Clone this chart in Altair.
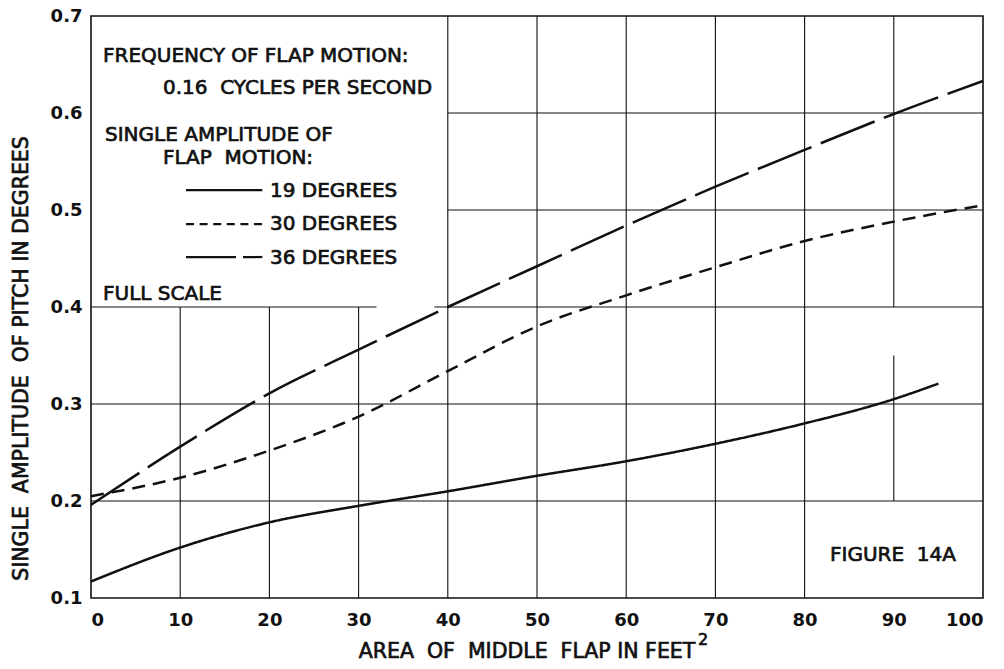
import altair as alt
import pandas as pd

# Single amplitude of pitch (degrees) versus area of middle flap (ft^2)
area_19 = [0, 10, 20, 30, 40, 50, 60, 70, 80, 90, 95]
pitch_19 = [0.117, 0.152, 0.178, 0.195, 0.210, 0.226, 0.241, 0.259, 0.280, 0.305, 0.321]

area_30 = [0, 10, 20, 30, 40, 50, 60, 70, 80, 90, 100]
pitch_30 = [0.205, 0.224, 0.252, 0.287, 0.334, 0.380, 0.412, 0.441, 0.468, 0.488, 0.505]

area_36 = [0, 10, 20, 30, 40, 50, 60, 70, 80, 90, 100]
pitch_36 = [0.196, 0.256, 0.311, 0.356, 0.400, 0.442, 0.484, 0.524, 0.562, 0.599, 0.633]

series_names = ["19 DEGREES", "30 DEGREES", "36 DEGREES"]

x_ticks = [0, 10, 20, 30, 40, 50, 60, 70, 80, 90, 100]
y_ticks = [0.1, 0.2, 0.3, 0.4, 0.5, 0.6, 0.7]

# Ruled grid, drawn as separate segments (blank under the key and the figure box)
grid_x = [10, 20, 30, 40, 50, 60, 70, 80, 90, 90, 0, 0, 0, 38.5, 40, 40]
grid_x2 = [10, 20, 30, 40, 50, 60, 70, 80, 90, 90, 100, 100, 32, 100, 100, 100]
grid_y = [0.1, 0.1, 0.1, 0.1, 0.1, 0.1, 0.1, 0.1, 0.2, 0.4, 0.2, 0.3, 0.4, 0.4, 0.5, 0.6]
grid_y2 = [0.4, 0.4, 0.4, 0.7, 0.7, 0.7, 0.7, 0.7, 0.35, 0.7, 0.2, 0.3, 0.4, 0.4, 0.5, 0.6]

# Key samples and notes (data coordinates)
SP = "\u00a0"  # non-collapsing space for the wider lettering gaps
key_x = [10.65, 19.2]
key_y = [0.5205, 0.4855, 0.4515]
note_text = [
    "FREQUENCY OF FLAP MOTION:",
    "0.16" + SP + " CYCLES PER SECOND",
    "SINGLE AMPLITUDE OF",
    "FLAP" + SP + " MOTION:",
    "19 DEGREES",
    "30 DEGREES",
    "36 DEGREES",
    "FULL SCALE",
    "FIGURE" + SP + " 14A",
]
note_x = [1.35, 8.07, 1.57, 8.07, 20.07, 20.07, 20.07, 1.35, 82.85]
note_y = [0.659, 0.626, 0.577, 0.554, 0.520, 0.4856, 0.451, 0.4129, 0.1448]

x_title = "AREA" + SP + " OF" + SP + " MIDDLE" + SP + " FLAP IN FEET"
x_title_sup = "2"
y_title = "SINGLE" + SP + " AMPLITUDE" + SP + " OF PITCH IN DEGREES"

FONT = "DejaVu Sans"
INK = "#111111"

curves = pd.concat(
    [
        pd.DataFrame({"series": series_names[0], "x": area_19, "y": pitch_19}),
        pd.DataFrame({"series": series_names[1], "x": area_30, "y": pitch_30}),
        pd.DataFrame({"series": series_names[2], "x": area_36, "y": pitch_36}),
    ],
    ignore_index=True,
)
grid = pd.DataFrame({"x": grid_x, "x2": grid_x2, "y": grid_y, "y2": grid_y2})
notes = pd.DataFrame({"text": note_text, "x": note_x, "y": note_y})

x_scale = alt.Scale(domain=[0, 100], nice=False, zero=False)
y_scale = alt.Scale(domain=[0.1, 0.7], nice=False, zero=False)
x_axis = alt.Axis(values=x_ticks, format="d", title=None, grid=False, domain=False,
                  ticks=False, tickSize=0, labelPadding=13)
y_axis = alt.Axis(values=y_ticks, format=".1f", title=None, grid=False, domain=False,
                  ticks=False, tickSize=0, labelPadding=9)


def xq(field="x"):
    return alt.X(f"{field}:Q", scale=x_scale, axis=x_axis)


def yq(field="y"):
    return alt.Y(f"{field}:Q", scale=y_scale, axis=y_axis)


grid_layer = alt.Chart(grid).mark_rule(color=INK, strokeWidth=1.1).encode(
    x=xq(), x2="x2:Q", y=yq(), y2="y2:Q"
)

curve_layer = alt.Chart(curves).mark_line(
    interpolate="monotone", color=INK, strokeWidth=2.5, strokeCap="butt"
).encode(
    x=xq(),
    y=yq(),
    strokeDash=alt.StrokeDash(
        "series:N",
        scale=alt.Scale(domain=series_names, range=[[1, 0], [13, 8], [58, 10]]),
        legend=None,
    ),
)

key_dashes = [[1, 0], [8, 5.6], [50, 7]]
key_layers = []
for ky, dash in zip(key_y, key_dashes):
    key_df = pd.DataFrame({"x": [key_x[0]], "x2": [key_x[1]], "y": [ky]})
    key_layers.append(
        alt.Chart(key_df).mark_rule(color=INK, strokeWidth=2.2, strokeDash=dash,
                                    strokeCap="butt").encode(
            x=xq(), x2="x2:Q", y=yq()
        )
    )

text_style = dict(font=FONT, color=INK, stroke=INK, strokeWidth=0.7)

note_layer = alt.Chart(notes).mark_text(
    align="left", baseline="middle", fontSize=20, **text_style
).encode(x=xq(), y=yq(), text="text:N")

xtitle_layer = alt.Chart(pd.DataFrame({"t": [x_title]})).mark_text(
    align="center", baseline="alphabetic", fontSize=20.5, **text_style
).encode(text="t:N", x=alt.value(436), y=alt.value(642))

xsup_layer = alt.Chart(pd.DataFrame({"t": [x_title_sup]})).mark_text(
    align="left", baseline="alphabetic", fontSize=16, **text_style
).encode(text="t:N", x=alt.value(607), y=alt.value(629))

ytitle_layer = alt.Chart(pd.DataFrame({"t": [y_title]})).mark_text(
    align="center", baseline="middle", fontSize=20.5, angle=270, **text_style
).encode(text="t:N", x=alt.value(-69.5), y=alt.value(342.5))

chart = alt.layer(
    grid_layer, curve_layer, *key_layers, note_layer, xtitle_layer, xsup_layer,
    ytitle_layer
).properties(
    width=892,
    height=582,
    autosize=alt.AutoSizeParams(type="none"),
    padding={"left": 91, "top": 16, "right": 21, "bottom": 71},
    background="white",
).configure_view(
    stroke=INK, strokeWidth=1.6
).configure_axis(
    labelFont=FONT, labelFontSize=18, labelFontWeight="bold", labelColor=INK
)

chart.save("out.html", embed_options={"renderer": "svg", "actions": False})
